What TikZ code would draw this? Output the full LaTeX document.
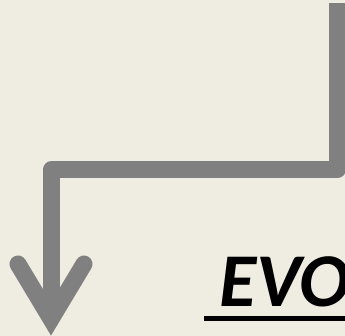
\documentclass[tikz,border=0pt]{standalone}
\usepackage{fontspec}
\newfontfamily\carl{Carlito}
\definecolor{bg}{RGB}{239,236,225}
\definecolor{arrowgray}{RGB}{128,128,128}
\tikzset{
  flow/.style={draw=arrowgray, line width=17pt, line join=round},
  headline/.style={draw=arrowgray, line width=17pt, line cap=round, line join=miter},
  title/.style={inner sep=0pt, anchor=base west, font=\carl\bfseries\itshape\fontsize{76}{90}\selectfont},
  rule/.style={draw=black, line width=5pt}
}
\begin{document}
\begin{tikzpicture}[x=1pt,y=-1pt]
\useasboundingbox (0,0) rectangle (345,336);
\fill[bg] (0,0) rectangle (345,336);
\clip (0,0) rectangle (345,336);
\coordinate (start) at (337,3);
\coordinate (corner) at (51,170);
\coordinate (tip) at (51,319);
\coordinate (armL) at (18,264);
\coordinate (armR) at (84,264);
\draw[flow] (start) |- (corner) -- (tip);
\draw[headline] (armL) -- (tip) -- (armR);
\node[title] (t) at (219,307) {EVO};
\coordinate (ulA) at (204,318.5);
\coordinate (ulB) at (350,318.5);
\draw[rule] (ulA) -- (ulB);
\end{tikzpicture}
\end{document}
